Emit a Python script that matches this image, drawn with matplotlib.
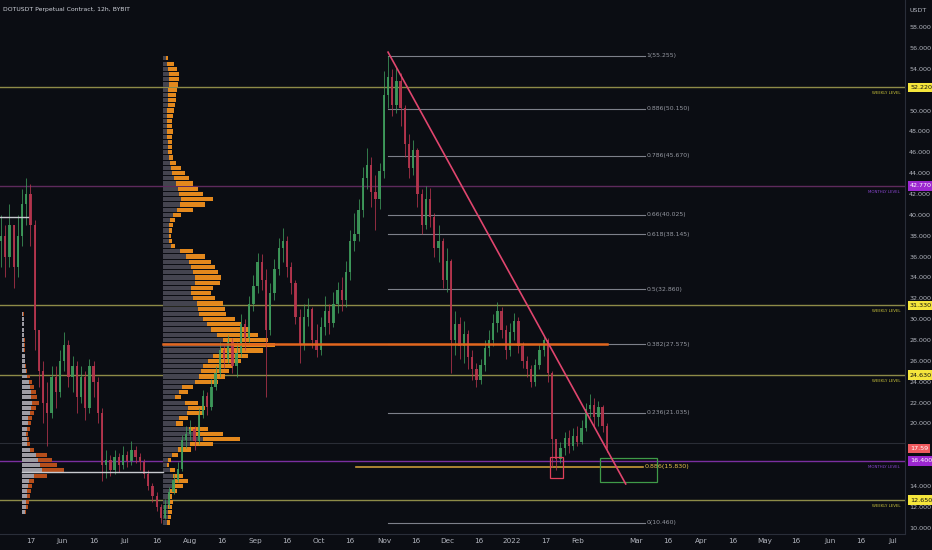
import matplotlib
matplotlib.use("Agg")
import matplotlib.pyplot as plt
import matplotlib.dates as mdates
import matplotlib.transforms as mtransforms
from matplotlib.patches import Rectangle
from datetime import date, timedelta
import numpy as np

plt.rcParams["font.family"] = ["DejaVu Sans"]

BG = "#0b0d13"
TEXT = "#b2b5be"
UP = "#3f9c5c"
DOWN = "#b8364e"

# --- price data (12h chart, sampled every 2 days) ---
START = date(2021, 5, 3)
STEP_DAYS = 2
first_open = 37.5
closes = [38, 36, 39, 35, 38, 41, 42, 39, 29, 25,
          22, 21, 24.5, 23, 26, 27.5, 24.5, 25.5, 22.5, 24.5,
          21.5, 25.5, 24, 21, 16, 16.5, 15.5, 16.8, 16, 17,
          16.4, 17.5, 16.8, 16.3, 15.2, 14, 13, 12, 10.9, 12.2,
          13.4, 14.6, 15.6, 18.4, 19, 19.5, 18.3, 20.8, 22.6, 21.6,
          23.5, 24.8, 27, 26.2, 27.8, 25.5, 26.8, 29.5, 28.2, 31.5,
          33.2, 35.5, 33.8, 29, 32.5, 34.8, 36.8, 37.5, 35, 33.5,
          30.2, 27.5, 30.2, 31, 28, 27, 29.2, 30.8, 29.6, 31.5,
          32.8, 31.8, 34.5, 37.5, 38.2, 40.5, 43.5, 44.8, 42.2, 41.5,
          44.2, 51.5, 53.2, 50.5, 52.8, 50.2, 46.8, 44.5, 46.2, 42,
          39, 41.5, 39.8, 36.8, 37.5, 33.8, 35.6, 28, 29.5, 27.4,
          28.6, 26.4, 25.2, 24.2, 25.6, 27.2, 28, 29.6, 30.8, 29,
          27, 28.8, 29.8, 27.4, 26, 25.2, 24, 25.6, 27, 28,
          24.8, 18.5, 16.6, 17.6, 18.6, 17.8, 18.8, 18.2, 19.6, 21.4,
          21.8, 20.6, 21.6, 19.8, 17.6]
highs = [40, 39, 41, 39, 40, 42.5, 43.5, 43, 39.5, 29,
         26, 24, 25.5, 25.5, 27, 28.8, 28, 26.5, 26, 25.5,
         25, 26.2, 26, 24.5, 21.5, 17.5, 17, 17.5, 17.2, 17.8,
         17.4, 18.3, 17.8, 17.2, 16.6, 15.5, 14.3, 13.4, 12.3, 12.8,
         13.9, 15.2, 16.3, 18.9, 19.8, 20.3, 19.8, 21.5, 23.2, 23,
         24.3, 25.5, 27.8, 27.5, 28.5, 28.2, 27.8, 30.5, 30, 32.2,
         34.2, 36.3, 36.2, 34.8, 33.5, 35.8, 37.8, 38.7, 38, 35.5,
         33.8, 31, 31.5, 32, 31.2, 29.5, 30.2, 32.2, 31.5, 32.6,
         33.6, 34, 35.6, 38.5, 40.2, 41.5, 44.6, 46.4, 45.5, 43.8,
         45, 53.8, 55.26, 54, 54.2, 53.6, 50.5, 47.8, 47.2, 46.4,
         42.5, 42.8, 42.6, 40.2, 39, 37.8, 36.8, 35.8, 30.8, 30.2,
         29.8, 29, 27, 25.8, 26.2, 28, 29, 30.5, 31.6, 31.2,
         29.4, 29.6, 30.6, 30.2, 27.8, 26.5, 25.6, 26.2, 27.6, 28.4,
         28.2, 25, 18.2, 18.2, 19.2, 19.4, 19.6, 19.8, 20.3, 22,
         22.8, 22.4, 22.2, 21.8, 20]
lows = [35, 34, 35, 33, 34, 37, 39, 37, 27, 23.5,
        20, 17.8, 20.5, 21.5, 22.5, 25, 23.5, 23, 21, 22,
        20.3, 21, 22.5, 20, 14.5, 14.8, 15, 15.2, 15.3, 15.6,
        15.8, 16, 16.2, 15.5, 14.8, 13.6, 12.5, 11.6, 10.46, 10.8,
        11.9, 13.2, 14.4, 15.4, 17.6, 18.4, 17.5, 18, 20.5, 20.8,
        21.3, 23.2, 24.5, 25.3, 25.8, 24.8, 24.5, 26.4, 27, 27.8,
        30.8, 32.5, 32.8, 22.5, 28.5, 31.8, 34.2, 35.5, 34, 32.4,
        29.5, 25.8, 27, 29.3, 27.2, 26.4, 26.6, 28.5, 28.6, 29.2,
        30.6, 30.8, 31.2, 33.8, 36.5, 37.5, 39.8, 42.5, 40.8, 38.5,
        40.6, 43.5, 50.2, 49.5, 49.8, 48.5, 45.5, 43.5, 43.8, 40.8,
        38.2, 38.6, 38.8, 36, 35.5, 33, 32.6, 24.8, 26.6, 26.2,
        25.8, 25.2, 24.2, 23.5, 23.8, 25, 26.5, 27.4, 28.8, 28.2,
        26.2, 26.5, 28, 26.8, 25.3, 24.5, 23.5, 23.6, 25.2, 26.5,
        24, 15.8, 15.5, 16.2, 17, 17.2, 17.5, 17.8, 18, 19.3,
        20.6, 19.8, 19.8, 19.2, 17.3]

# --- volume profiles (relative volume per 0.5 price row) ---
vp_low, vp_step = 10.5, 0.5
vp_total = [7, 8, 9, 9, 10, 9, 14, 20, 25, 20,
            12, 6, 8, 15, 28, 50, 77, 60, 45, 20,
            25, 40, 42, 35, 18, 25, 30, 55, 62, 66,
            70, 78, 85, 100, 112, 105, 95, 87, 78, 72,
            63, 62, 60, 52, 48, 50, 57, 58, 55, 52,
            48, 42, 30, 12, 9, 8, 9, 10, 12, 18,
            30, 42, 50, 40, 35, 30, 26, 22, 18, 13,
            10, 9, 9, 9, 9, 10, 9, 9, 10, 11,
            12, 13, 13, 14, 15, 16, 16, 14, 11, 5]
vp_down = [4, 5, 5, 5, 6, 5, 7, 10, 12, 10,
           7, 4, 5, 9, 15, 27, 40, 33, 26, 13,
           16, 24, 25, 22, 12, 16, 19, 32, 36, 38,
           40, 45, 50, 58, 68, 60, 54, 48, 44, 40,
           36, 35, 34, 30, 28, 28, 32, 32, 30, 28,
           26, 23, 17, 8, 6, 6, 6, 6, 7, 10,
           14, 17, 18, 16, 15, 13, 11, 9, 8, 7,
           6, 5, 5, 5, 4, 4, 4, 4, 4, 4,
           5, 5, 5, 5, 6, 6, 6, 5, 4, 3]
sp_low, sp_step = 11.5, 0.5
sp_total = [4, 6, 7, 8, 9, 10, 12, 25, 42, 35,
            30, 25, 12, 8, 7, 6, 8, 9, 10, 12,
            14, 17, 15, 14, 12, 10, 8, 5, 4, 3,
            3, 3, 3, 3, 2, 2, 2, 2, 2]
sp_down = [3, 4, 4, 5, 5, 6, 7, 12, 20, 18,
           16, 14, 8, 5, 5, 4, 5, 6, 6, 8,
           9, 10, 9, 9, 8, 7, 5, 4, 3, 3,
           3, 2, 2, 2, 2, 2, 2, 2, 1]

# --- drawn levels ---
weekly_levels = [52.22, 31.33, 24.63, 12.65]
monthly_levels = [42.77, 16.40]
last_price = 17.59
fib_ratios = ["1", "0.886", "0.786", "0.66", "0.618", "0.5", "0.382", "0.236", "0"]
fib_prices = [55.255, 50.150, 45.670, 40.025, 38.145, 32.860, 27.575, 21.035, 10.460]
fib_886_low = 15.830

price_ticks = [10, 12, 14, 20, 22, 24, 26, 28, 30, 32, 34, 36, 38, 40, 42,
               44, 46, 48, 50, 54, 56, 58]
tick_dates = [date(2021, 5, 17), date(2021, 6, 1), date(2021, 6, 16), date(2021, 7, 1),
              date(2021, 7, 16), date(2021, 8, 1), date(2021, 8, 16), date(2021, 9, 1),
              date(2021, 9, 16), date(2021, 10, 1), date(2021, 10, 16), date(2021, 11, 1),
              date(2021, 11, 16), date(2021, 12, 1), date(2021, 12, 16), date(2022, 1, 1),
              date(2022, 1, 17), date(2022, 2, 1), date(2022, 3, 1), date(2022, 3, 16),
              date(2022, 4, 1), date(2022, 4, 16), date(2022, 5, 1), date(2022, 5, 16),
              date(2022, 6, 1), date(2022, 6, 16), date(2022, 7, 1)]
tick_labels = ["17", "Jun", "16", "Jul", "16", "Aug", "16", "Sep", "16", "Oct", "16",
               "Nov", "16", "Dec", "16", "2022", "17", "Feb", "Mar", "16", "Apr", "16",
               "May", "16", "Jun", "16", "Jul"]


def dn(d):
    return mdates.date2num(d)


fig = plt.figure(figsize=(9.32, 5.5), dpi=100)
fig.patch.set_facecolor(BG)
ax = fig.add_axes([0, 16 / 550, 905 / 932, 534 / 550])
ax.set_facecolor(BG)
x0 = dn(START) - 0.5
ax.set_xlim(x0, x0 + 430.3)
ax.set_ylim(9.40, 60.60)

# candles
xs = np.array([dn(START + timedelta(days=STEP_DAYS * i)) for i in range(len(closes))])
opens = [first_open] + closes[:-1]
cols = [UP if c >= o else DOWN for o, c in zip(opens, closes)]
ax.vlines(xs, lows, highs, colors=cols, linewidth=0.6, alpha=0.9, zorder=4)
ax.bar(xs, [max(abs(c - o), 0.15) for o, c in zip(opens, closes)],
       bottom=[min(o, c) for o, c in zip(opens, closes)], width=1.1,
       color=cols, alpha=0.9, linewidth=0, zorder=4)

# volume profiles
days_per_unit = 0.475
vp_base = dn(date(2021, 7, 19))
vp_prices = vp_low + vp_step * np.arange(len(vp_total))
ax.barh(vp_prices, np.array(vp_total) * days_per_unit, left=vp_base, height=0.4,
        color="#f0901e", alpha=0.95, linewidth=0, zorder=3)
ax.barh(vp_prices, np.array(vp_down) * days_per_unit, left=vp_base, height=0.4,
        color="#3b4152", alpha=0.95, linewidth=0, zorder=3)
poc = vp_prices[int(np.argmax(vp_total))]
ax.plot([vp_base, dn(date(2022, 2, 15))], [poc + 0.1, poc + 0.1], color="#e2661e",
        linewidth=1.8, zorder=5)

sp_base = dn(date(2021, 5, 13))
sp_prices = sp_low + sp_step * np.arange(len(sp_total))
ax.barh(sp_prices, np.array(sp_total) * days_per_unit, left=sp_base, height=0.38,
        color="#c0521c", alpha=0.95, linewidth=0, zorder=3)
ax.barh(sp_prices, np.array(sp_down) * days_per_unit, left=sp_base, height=0.38,
        color="#9da1ac", alpha=0.95, linewidth=0, zorder=3)
sp_poc = sp_prices[int(np.argmax(sp_total))]
ax.plot([sp_base, vp_base], [sp_poc - 0.15, sp_poc - 0.15], color="#c8cad0",
        linewidth=1.0, zorder=5)
ax.plot([x0, dn(date(2021, 5, 16))], [39.8, 39.8], color="#c8cad0", linewidth=1.0, zorder=5)

# horizontal levels
blend = mtransforms.blended_transform_factory(ax.transAxes, ax.transData)
for lv in weekly_levels:
    ax.axhline(lv, color="#8e8b48", linewidth=1.0, zorder=2)
    ax.text(900 / 905, lv - 0.55, "WEEKLY LEVEL", transform=blend, ha="right", va="center",
            fontsize=2.8, color="#c9c23a", zorder=6)
for lv, c in zip(monthly_levels, ["#5e2a5c", "#7b2fa0"]):
    ax.axhline(lv, color=c, linewidth=1.0, zorder=2)
    ax.text(900 / 905, lv - 0.55, "MONTHLY LEVEL", transform=blend, ha="right", va="center",
            fontsize=2.8, color="#8a46d0", zorder=6)
ax.axhline(18.1, color="#2a2d36", linewidth=0.8, zorder=1)

# fib retracement
fib_start, fib_end = dn(date(2021, 11, 3)), dn(date(2022, 3, 5))
for r, p in zip(fib_ratios, fib_prices):
    ax.plot([fib_start, fib_end], [p, p], color="#7d808a", linewidth=0.8, zorder=2)
    ax.text(fib_end + 0.8, p, f"{r}({p:.3f})", ha="left", va="center", fontsize=4.4,
            color="#9598a1", zorder=6)
ax.plot([dn(date(2021, 10, 19)), dn(date(2022, 3, 4))], [fib_886_low, fib_886_low],
        color="#c89a38", linewidth=1.2, zorder=2)
ax.text(dn(date(2022, 3, 4)) + 0.8, fib_886_low, f"0.886({fib_886_low:.3f})", ha="left",
        va="center", fontsize=4.6, color="#e8c24a", zorder=6)

# boxes and trendline
ax.add_patch(Rectangle((dn(date(2022, 1, 19)), 14.8), 6.2, 2.0, fill=False,
                       edgecolor="#e0405a", linewidth=0.9, zorder=6))
ax.add_patch(Rectangle((dn(date(2022, 2, 12)), 14.39), 27.0, 2.3, fill=False,
                       edgecolor="#3f9a48", linewidth=0.9, zorder=6))
ax.plot([dn(date(2021, 11, 3)), dn(date(2022, 2, 24))], [55.6, 14.2], color="#e0456e",
        linewidth=1.2, zorder=6)

# axes styling
for s in ["top", "left"]:
    ax.spines[s].set_visible(False)
ax.spines["right"].set_color("#2a2e39")
ax.spines["bottom"].set_color("#2a2e39")
ax.set_xticks([dn(d) for d in tick_dates])
ax.set_xticklabels(tick_labels)
ax.tick_params(axis="x", length=0, pad=3, labelsize=5.2, colors=TEXT)
ax.yaxis.tick_right()
ax.set_yticks(price_ticks)
ax.set_yticklabels([f"{v:.3f}" for v in price_ticks])
ax.tick_params(axis="y", length=0, pad=3, labelsize=4.6, colors=TEXT)

# price axis labels
boxes = [(52.22, "#f5e63c", "#111111"), (42.77, "#9c27d0", "white"),
         (31.33, "#f5e63c", "#111111"), (24.63, "#f5e63c", "#111111"),
         (last_price, "#f05a5e", "white"), (16.40, "#9c27d0", "white"),
         (12.65, "#f5e63c", "#111111")]
for p, fc, tc in boxes:
    ax.text(1 + 5 / 905, p, f"{p:.3f}" if p != last_price else f"{p:.2f}", transform=blend,
            ha="left", va="center", fontsize=4.6, color=tc, zorder=10, clip_on=False,
            bbox=dict(boxstyle="square,pad=0.35", fc=fc, ec="none"))

fig.text(3 / 932, 1 - 10 / 550, "DOTUSDT Perpetual Contract, 12h, BYBIT", fontsize=4.4,
         color="#d1d4dc", va="center", ha="left")
fig.text(918 / 932, 1 - 10 / 550, "USDT", fontsize=4.6, color=TEXT, va="center", ha="center")

fig.savefig("out.png", dpi=100, facecolor=BG)
